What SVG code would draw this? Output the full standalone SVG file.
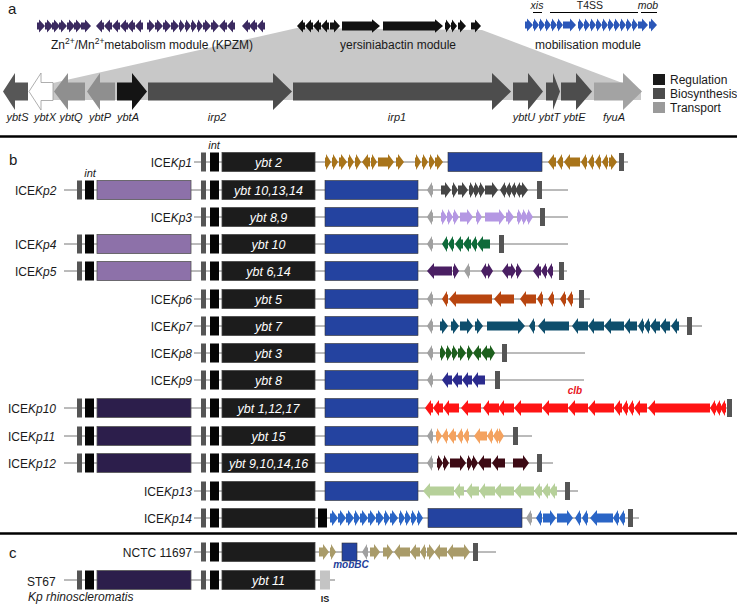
<svg xmlns="http://www.w3.org/2000/svg" width="737" height="608" viewBox="0 0 737 608">
<style>
text{font-family:"Liberation Sans",Arial,sans-serif;fill:#1a1a1a}
.it{font-style:italic}
.lab{font-size:12px}
.ybt{font-size:12.5px;font-style:italic;fill:#fff;text-anchor:middle}
.gl{font-size:11px;font-style:italic;text-anchor:middle}
.mod{font-size:12px;text-anchor:middle}
.pan{font-size:15px}
.bk line{stroke:#777;stroke-width:1}
.gb{fill:#555}
.ib{fill:#050505}
.yb{fill:#1c1c1c;stroke:#444;stroke-width:.8}
.bl{fill:#2443a0;stroke:#333;stroke-width:.6}
.pl{fill:#8d71a9;stroke:#555;stroke-width:.8}
.pd{fill:#2c1e4b;stroke:#555;stroke-width:.8}
.gr{fill:#a0a0a0}
.sep{stroke:#000;stroke-width:2.5}
.c1{fill:#a8741a}.c2{fill:#454545}.c3{fill:#b497e3}.c4{fill:#0e6b3a}.c5{fill:#4a1f63}
.c6{fill:#b8450f}.c7{fill:#0e4e6c}.c8{fill:#1c5f1c}.c9{fill:#2b2b8e}.c10{fill:#ff1414}
.c11{fill:#f4a25f}.c12{fill:#3d0a14}.c13{fill:#b6d09a}.c14{fill:#2a65c6}.cn{fill:#a99b69}
.kz{fill:#3b2a60}.yk{fill:#111}.mb{fill:#2b57b8}
</style>
<defs>
<path id="r6" d="M0,-4.5H1V-8L6,0L1,8V4.5H0Z"/>
<path id="r8" d="M0,-4.5H2V-8L8,0L2,8V4.5H0Z"/>
<path id="r10" d="M0,-4.5H4V-8L10,0L4,8V4.5H0Z"/>
<path id="r13" d="M0,-4.5H7V-8L13,0L7,8V4.5H0Z"/>
<path id="r16" d="M0,-4.5H10V-8L16,0L10,8V4.5H0Z"/>
<path id="r20" d="M0,-4.5H14V-8L20,0L14,8V4.5H0Z"/>
<path id="l6" d="M0,0L5,-8V-4.5H6V4.5H5V8Z"/>
<path id="l8" d="M0,0L6,-8V-4.5H8V4.5H6V8Z"/>
<path id="l10" d="M0,0L6,-8V-4.5H10V4.5H6V8Z"/>
<path id="l13" d="M0,0L6,-8V-4.5H13V4.5H6V8Z"/>
<path id="l16" d="M0,0L6,-8V-4.5H16V4.5H6V8Z"/>
<path id="l20" d="M0,0L7,-8V-4.5H20V4.5H7V8Z"/>
<path id="l26" d="M0,0L7,-8V-4.5H26V4.5H7V8Z"/>
</defs>
<rect width="737" height="608" fill="#fff"/>

<!-- Panel a -->
<text class="pan" x="8" y="14">a</text>
<polygon points="297,28 482,30 641,90 641,100 53,100 53,83" fill="#c8c8c8"/>
<g id="kpzm-module">
<g class="kz" transform="translate(0,26) scale(1,0.8)">
<use href="#r8" x="37"/><use href="#r8" x="45"/><use href="#r8" x="52"/><use href="#r8" x="59"/><use href="#r8" x="67"/><use href="#r8" x="74"/><use href="#r10" x="81"/>
<use href="#l8" x="96"/><use href="#l8" x="104"/><use href="#l8" x="112"/><use href="#l8" x="120"/><use href="#l8" x="127"/><use href="#l8" x="135"/>
<use href="#r8" x="147"/><use href="#r8" x="155"/><use href="#r8" x="163"/><use href="#r8" x="171"/><use href="#r6" x="179"/><use href="#r6" x="185"/><use href="#r6" x="191"/><use href="#r6" x="197"/><use href="#r8" x="203"/><use href="#r8" x="211"/><use href="#l8" x="219"/><use href="#l8" x="227"/>
<use href="#l8" x="242"/><use href="#l8" x="249"/><use href="#l8" x="257"/>
</g>
<text class="mod" x="152" y="49">Zn<tspan dy="-5" font-size="8.5">2+</tspan><tspan dy="5">/Mn</tspan><tspan dy="-5" font-size="8.5">2+</tspan><tspan dy="5">metabolism module (KPZM)</tspan></text>
</g>
<g id="ybt-module">
<g class="yk" transform="translate(0,26) scale(1,0.8)">
<use href="#l8" x="297"/><use href="#l8" x="305"/><use href="#l8" x="313"/><use href="#l8" x="321"/><use href="#r10" x="330"/>
<path d="M342,-5.5H372V-8.5L380,0L372,8.5V5.5H342Z"/>
<path d="M383,-5.5H435V-8.5L443,0L435,8.5V5.5H383Z"/>
<use href="#r6" x="445"/><use href="#r6" x="451"/><use href="#r8" x="458"/><use href="#r10" x="471"/>
</g>
<text class="mod" x="398" y="49">yersiniabactin module</text>
</g>
<g id="mob-module">
<g class="mb" transform="translate(0,25) scale(1,0.8)">
<use href="#r8" x="525"/><use href="#r6" x="533"/><use href="#r6" x="539"/><use href="#r6" x="545"/><use href="#r6" x="551"/><use href="#r6" x="557"/><use href="#r13" x="563"/>
<use href="#r6" x="578"/><use href="#r6" x="584"/><use href="#r6" x="590"/><use href="#r6" x="596"/><use href="#r6" x="602"/><use href="#r6" x="608"/><use href="#r6" x="614"/><use href="#r6" x="620"/>
<use href="#r6" x="626"/><use href="#r6" x="632"/><use href="#r10" x="638"/><use href="#r8" x="649"/>
</g>
<text class="it" x="537" y="9" font-size="10.5" text-anchor="middle">xis</text>
<text x="590" y="9" font-size="10.5" text-anchor="middle">T4SS</text>
<text class="it" x="648" y="9" font-size="10.5" text-anchor="middle">mob</text>
<g stroke="#000" stroke-width="1"><line x1="533" y1="12.5" x2="542" y2="12.5"/><line x1="550" y1="12.5" x2="638" y2="12.5"/><line x1="641" y1="12.5" x2="657" y2="12.5"/></g>
<text class="mod" x="588" y="49">mobilisation module</text>
</g>
<g id="ybt-locus">
<path d="M3,91.5L15,73V82.5H28V100.5H15V110Z" fill="#575757"/>
<path d="M29,91.5L41,73V82.5H53V100.5H41V110Z" fill="#fff" stroke="#9a9a9a" stroke-width="0.8"/>
<path d="M54,91.5L68,73V82.5H85V100.5H68V110Z" fill="#8f8f8f"/>
<path d="M87,91.5L100,73V82.5H115V100.5H100V110Z" fill="#8f8f8f"/>
<path d="M117,82.5H132V73L147,91.5L132,110V100.5H117Z" fill="#141414"/>
<path d="M148,82.5H273V73L292,91.5L273,110V100.5H148Z" fill="#4d4d4d"/>
<path d="M293,82.5H492V73L511,91.5L492,110V100.5H293Z" fill="#4d4d4d"/>
<path d="M513,82.5H528V73L543,91.5L528,110V100.5H513Z" fill="#4d4d4d"/>
<path d="M546,82.5H553V73L560,91.5L553,110V100.5H546Z" fill="#4d4d4d"/>
<path d="M561,82.5H576V73L592,91.5L576,110V100.5H561Z" fill="#4d4d4d"/>
<path d="M594,82.5H623V73L642,91.5L623,110V100.5H594Z" fill="#a3a3a3"/>
<text class="gl" x="17.5" y="121">ybtS</text>
<text class="gl" x="45" y="121">ybtX</text>
<text class="gl" x="71" y="121">ybtQ</text>
<text class="gl" x="100" y="121">ybtP</text>
<text class="gl" x="128" y="121">ybtA</text>
<text class="gl" x="217" y="121">irp2</text>
<text class="gl" x="397" y="121">irp1</text>
<text class="gl" x="524" y="121">ybtU</text>
<text class="gl" x="549.5" y="121">ybtT</text>
<text class="gl" x="574.5" y="121">ybtE</text>
<text class="gl" x="614" y="121">fyuA</text>
</g>
<g id="legend">
<rect x="653" y="74" width="12" height="11" fill="#1a1a1a"/>
<rect x="653" y="88" width="12" height="11" fill="#4d4d4d"/>
<rect x="653" y="102" width="12" height="11" fill="#9a9a9a"/>
<text x="670" y="84" font-size="12">Regulation</text>
<text x="670" y="98" font-size="12">Biosynthesis</text>
<text x="670" y="112" font-size="12">Transport</text>
</g>
<line class="sep" x1="0" y1="136.5" x2="737" y2="136.5"/>

<!-- Panel b -->
<text class="pan" x="9" y="165">b</text>
<g id="connectors" class="bk">
<line x1="194" y1="162" x2="628" y2="162"/>
<line x1="64" y1="190" x2="568" y2="190"/>
<line x1="194" y1="217" x2="568" y2="217"/>
<line x1="64" y1="244" x2="568" y2="244"/>
<line x1="64" y1="271" x2="567" y2="271"/>
<line x1="194" y1="299" x2="590" y2="299"/>
<line x1="194" y1="326" x2="702" y2="326"/>
<line x1="194" y1="353" x2="585" y2="353"/>
<line x1="194" y1="380" x2="584" y2="380"/>
<line x1="64" y1="408" x2="732" y2="408"/>
<line x1="64" y1="436" x2="532" y2="436"/>
<line x1="64" y1="463" x2="553" y2="463"/>
<line x1="194" y1="491" x2="578" y2="491"/>
<line x1="194" y1="518" x2="639" y2="518"/>
<line x1="194" y1="552" x2="496" y2="552"/>
<line x1="64" y1="580" x2="335" y2="580"/>
</g>

<g id="ICEKp1">
<text class="lab" x="192" y="166.5" text-anchor="end">ICE<tspan class="it">Kp1</tspan></text>
<text class="it" x="214" y="149" font-size="11" text-anchor="middle">int</text>
<rect class="gb" x="201" y="152.5" width="5" height="19"/><rect class="ib" x="210" y="152.5" width="9" height="19"/>
<rect class="yb" x="222" y="152.5" width="93" height="19"/><text class="ybt" x="268.5" y="166.5">ybt 2</text>
<rect class="bl" x="448" y="152.5" width="94" height="19"/>
<g class="c1" transform="translate(0,162)">
<use href="#r6" x="325"/><use href="#r6" x="332"/><use href="#r8" x="339"/><use href="#r6" x="348"/><use href="#r6" x="355"/><use href="#l8" x="362"/><use href="#r6" x="371"/><use href="#r16" x="378"/><use href="#r8" x="396"/><use href="#r6" x="415"/><use href="#r6" x="422"/><use href="#r6" x="429"/><use href="#r8" x="435"/>
<use href="#l8" x="548"/><use href="#l6" x="557"/><use href="#l16" x="564"/><use href="#l6" x="581"/><use href="#l6" x="588"/><use href="#l6" x="595"/><use href="#l6" x="602"/><use href="#r8" x="609"/>
</g>
<rect class="gb" x="619" y="153" width="5" height="18"/>
</g>

<g id="ICEKp2">
<text class="lab" x="15" y="194.5">ICE<tspan class="it">Kp2</tspan></text>
<text class="it" x="90" y="177" font-size="11" text-anchor="middle">int</text>
<rect class="gb" x="77" y="180.5" width="5" height="19"/><rect class="ib" x="85" y="180.5" width="9" height="19"/>
<rect class="pl" x="97" y="180.5" width="94" height="19"/>
<rect class="gb" x="201" y="180.5" width="5" height="19"/><rect class="ib" x="210" y="180.5" width="9" height="19"/>
<rect class="yb" x="222" y="180.5" width="93" height="19"/><text class="ybt" x="268.5" y="194.5">ybt 10,13,14</text>
<rect class="bl" x="325" y="180.5" width="93" height="19"/>
<g class="c2" transform="translate(0,190)">
<use class="gr" href="#l6" x="427"/>
<use href="#r10" x="441"/><use href="#r6" x="452"/><use href="#r10" x="458"/><use href="#r6" x="469"/><use href="#r6" x="474"/><use href="#r6" x="479"/><use href="#r13" x="485"/><use href="#l6" x="500"/><use href="#l6" x="505"/><use href="#l6" x="510"/><use href="#l6" x="515"/><use href="#r8" x="520"/>
</g>
<rect class="gb" x="537" y="181" width="5" height="18"/>
</g>

<g id="ICEKp3">
<text class="lab" x="192" y="221.5" text-anchor="end">ICE<tspan class="it">Kp3</tspan></text>
<rect class="gb" x="201" y="207.5" width="5" height="19"/><rect class="ib" x="210" y="207.5" width="9" height="19"/>
<rect class="yb" x="222" y="207.5" width="93" height="19"/><text class="ybt" x="268.5" y="221.5">ybt 8,9</text>
<rect class="bl" x="325" y="207.5" width="93" height="19"/>
<g class="c3" transform="translate(0,217)">
<use class="gr" href="#l6" x="427"/>
<use href="#r6" x="441"/><use href="#r6" x="447"/><use href="#r6" x="453"/><use href="#r13" x="460"/><use href="#r6" x="476"/><use href="#r20" x="485"/><use href="#r8" x="506"/><use href="#r6" x="517"/><use href="#r6" x="522"/><use href="#r6" x="527"/>
</g>
<rect class="gb" x="540" y="208" width="5" height="18"/>
</g>

<g id="ICEKp4">
<text class="lab" x="15" y="248.5">ICE<tspan class="it">Kp4</tspan></text>
<rect class="gb" x="77" y="234.5" width="5" height="19"/><rect class="ib" x="85" y="234.5" width="9" height="19"/>
<rect class="pl" x="97" y="234.5" width="94" height="19"/>
<rect class="gb" x="201" y="234.5" width="5" height="19"/><rect class="ib" x="210" y="234.5" width="9" height="19"/>
<rect class="yb" x="222" y="234.5" width="93" height="19"/><text class="ybt" x="268.5" y="248.5">ybt 10</text>
<rect class="bl" x="325" y="234.5" width="93" height="19"/>
<g class="c4" transform="translate(0,244)">
<use class="gr" href="#l6" x="427"/>
<use href="#l6" x="442"/><use href="#l6" x="448"/><use href="#l8" x="455"/><use href="#l8" x="463"/><use href="#l6" x="471"/><use href="#l13" x="477"/>
</g>
<rect class="gb" x="499" y="235" width="5" height="18"/>
</g>

<g id="ICEKp5">
<text class="lab" x="15" y="275.5">ICE<tspan class="it">Kp5</tspan></text>
<rect class="gb" x="77" y="261.5" width="5" height="19"/><rect class="ib" x="85" y="261.5" width="9" height="19"/>
<rect class="pl" x="97" y="261.5" width="94" height="19"/>
<rect class="gb" x="201" y="261.5" width="5" height="19"/><rect class="ib" x="210" y="261.5" width="9" height="19"/>
<rect class="yb" x="222" y="261.5" width="93" height="19"/><text class="ybt" x="268.5" y="275.5">ybt 6,14</text>
<rect class="bl" x="325" y="261.5" width="93" height="19"/>
<g class="c5" transform="translate(0,271)">
<path d="M427,0L434,-8V-4.5H452V4.5H434V8Z"/><use href="#r6" x="453"/>
<use class="gr" href="#l6" x="464"/>
<use href="#l6" x="481"/><use href="#r6" x="487"/><use href="#l8" x="502"/><use href="#r6" x="510"/><use href="#r6" x="516"/><use href="#l8" x="533"/><use href="#l6" x="541"/><use href="#l6" x="547"/>
</g>
<rect class="gb" x="559" y="262" width="5" height="18"/>
</g>

<g id="ICEKp6">
<text class="lab" x="192" y="303.5" text-anchor="end">ICE<tspan class="it">Kp6</tspan></text>
<rect class="gb" x="201" y="289.5" width="5" height="19"/><rect class="ib" x="210" y="289.5" width="9" height="19"/>
<rect class="yb" x="222" y="289.5" width="93" height="19"/><text class="ybt" x="268.5" y="303.5">ybt 5</text>
<rect class="bl" x="325" y="289.5" width="93" height="19"/>
<g class="c6" transform="translate(0,299)">
<use class="gr" href="#l6" x="427"/>
<use href="#l6" x="442"/><path d="M449,0L456,-8V-4.5H492V4.5H456V8Z"/><use href="#l20" x="494"/><use href="#l16" x="520"/><use href="#l6" x="537"/><use href="#l6" x="548"/><use href="#l6" x="560"/><use href="#l6" x="567"/>
</g>
<rect class="gb" x="579" y="290" width="5" height="18"/>
</g>

<g id="ICEKp7">
<text class="lab" x="192" y="330.5" text-anchor="end">ICE<tspan class="it">Kp7</tspan></text>
<rect class="gb" x="201" y="316.5" width="5" height="19"/><rect class="ib" x="210" y="316.5" width="9" height="19"/>
<rect class="yb" x="222" y="316.5" width="93" height="19"/><text class="ybt" x="268.5" y="330.5">ybt 7</text>
<rect class="bl" x="325" y="316.5" width="93" height="19"/>
<g class="c7" transform="translate(0,326)">
<use class="gr" href="#l6" x="427"/>
<use href="#r8" x="440"/><use href="#r8" x="451"/><use href="#r13" x="460"/><use href="#r8" x="475"/>
<path d="M487,-4.5H518V-8L525,0L518,8V4.5H487Z"/><use href="#l6" x="529"/>
<path d="M538,0L545,-8V-4.5H569V4.5H545V8Z"/>
<use href="#l16" x="572"/><use href="#l16" x="588"/><use href="#l20" x="604"/><use href="#l13" x="624"/><use href="#l6" x="638"/><use href="#l6" x="644"/><use href="#l10" x="650"/><use href="#l10" x="660"/><use href="#l8" x="671"/>
</g>
<rect class="gb" x="687" y="317" width="5" height="18"/>
</g>

<g id="ICEKp8">
<text class="lab" x="192" y="357.5" text-anchor="end">ICE<tspan class="it">Kp8</tspan></text>
<rect class="gb" x="201" y="343.5" width="5" height="19"/><rect class="ib" x="210" y="343.5" width="9" height="19"/>
<rect class="yb" x="222" y="343.5" width="93" height="19"/><text class="ybt" x="268.5" y="357.5">ybt 3</text>
<rect class="bl" x="325" y="343.5" width="93" height="19"/>
<g class="c8" transform="translate(0,353)">
<use class="gr" href="#l6" x="427"/>
<use href="#r6" x="440"/><use href="#r6" x="446"/><use href="#r6" x="452"/><use href="#r8" x="458"/><use href="#r6" x="467"/><use href="#l8" x="473"/><use href="#l8" x="481"/><use href="#r6" x="489"/>
</g>
<rect class="gb" x="502" y="344" width="5" height="18"/>
</g>

<g id="ICEKp9">
<text class="lab" x="192" y="384.5" text-anchor="end">ICE<tspan class="it">Kp9</tspan></text>
<rect class="gb" x="201" y="370.5" width="5" height="19"/><rect class="ib" x="210" y="370.5" width="9" height="19"/>
<rect class="yb" x="222" y="370.5" width="93" height="19"/><text class="ybt" x="268.5" y="384.5">ybt 8</text>
<rect class="bl" x="325" y="370.5" width="93" height="19"/>
<g class="c9" transform="translate(0,380)">
<use class="gr" href="#l6" x="427"/>
<use href="#l10" x="442"/><use href="#l10" x="452"/><use href="#l10" x="462"/><use href="#l13" x="472"/>
</g>
<rect class="gb" x="495" y="371" width="5" height="18"/>
</g>

<g id="ICEKp10">
<text class="lab" x="8" y="412.5">ICE<tspan class="it">Kp10</tspan></text>
<rect class="gb" x="77" y="398.5" width="5" height="19"/><rect class="ib" x="85" y="398.5" width="9" height="19"/>
<rect class="pd" x="97" y="398.5" width="94" height="19"/>
<rect class="gb" x="201" y="398.5" width="5" height="19"/><rect class="ib" x="210" y="398.5" width="9" height="19"/>
<rect class="yb" x="222" y="398.5" width="93" height="19"/><text class="ybt" x="268.5" y="412.5">ybt 1,12,17</text>
<rect class="bl" x="325" y="398.5" width="93" height="19"/>
<g class="c10" transform="translate(0,408)">
<use href="#l8" x="425"/><use href="#l10" x="433"/><use href="#l16" x="443"/><use href="#l20" x="461"/><use href="#l16" x="483"/><use href="#l16" x="498"/>
<path d="M514,0L521,-8V-4.5H542V4.5H521V8Z"/>
<use href="#l26" x="542"/><use href="#l20" x="568"/><use href="#l26" x="588"/><use href="#l8" x="614"/><use href="#l6" x="622"/><use href="#l6" x="628"/><use href="#l13" x="634"/>
<path d="M648,0L655,-8V-4.5H710V4.5H655V8Z"/>
<use href="#l6" x="710"/><use href="#l6" x="715"/><use href="#l6" x="720"/>
</g>
<text x="575" y="394" font-size="10" font-weight="bold" font-style="italic" style="fill:#e8141c" text-anchor="middle">clb</text>
<rect class="gb" x="727" y="399" width="5" height="18"/>
</g>

<g id="ICEKp11">
<text class="lab" x="8" y="440.5">ICE<tspan class="it">Kp11</tspan></text>
<rect class="gb" x="77" y="426.5" width="5" height="19"/><rect class="ib" x="85" y="426.5" width="9" height="19"/>
<rect class="pd" x="97" y="426.5" width="94" height="19"/>
<rect class="gb" x="201" y="426.5" width="5" height="19"/><rect class="ib" x="210" y="426.5" width="9" height="19"/>
<rect class="yb" x="222" y="426.5" width="93" height="19"/><text class="ybt" x="268.5" y="440.5">ybt 15</text>
<rect class="bl" x="325" y="426.5" width="93" height="19"/>
<g class="c11" transform="translate(0,436)">
<use class="gr" href="#l6" x="427"/>
<use href="#r6" x="436"/><use href="#l6" x="442"/><use href="#l8" x="448"/><use href="#l6" x="457"/><use href="#l6" x="463"/><use href="#l13" x="474"/><use href="#l6" x="487"/><use href="#l6" x="493"/><use href="#r6" x="498"/>
</g>
<rect class="gb" x="513" y="427" width="5" height="18"/>
</g>

<g id="ICEKp12">
<text class="lab" x="8" y="467.5">ICE<tspan class="it">Kp12</tspan></text>
<rect class="gb" x="77" y="453.5" width="5" height="19"/><rect class="ib" x="85" y="453.5" width="9" height="19"/>
<rect class="pd" x="97" y="453.5" width="94" height="19"/>
<rect class="gb" x="201" y="453.5" width="5" height="19"/><rect class="ib" x="210" y="453.5" width="9" height="19"/>
<rect class="yb" x="222" y="453.5" width="93" height="19"/><text class="ybt" x="268.5" y="467.5">ybt 9,10,14,16</text>
<rect class="bl" x="325" y="453.5" width="93" height="19"/>
<g class="c12" transform="translate(0,463)">
<use class="gr" href="#l6" x="427"/>
<use href="#r6" x="437"/><use href="#r6" x="443"/><use href="#r16" x="450"/><use href="#r6" x="467"/><use href="#r6" x="472"/><use href="#l13" x="478"/><use href="#l13" x="492"/><use href="#r16" x="513"/>
</g>
<rect class="gb" x="537" y="454" width="5" height="18"/>
</g>

<g id="ICEKp13">
<text class="lab" x="192" y="495.5" text-anchor="end">ICE<tspan class="it">Kp13</tspan></text>
<rect class="gb" x="201" y="481.5" width="5" height="19"/><rect class="ib" x="210" y="481.5" width="9" height="19"/>
<rect class="yb" x="222" y="481.5" width="93" height="19"/>
<rect class="bl" x="325" y="481.5" width="93" height="19"/>
<g class="c13" transform="translate(0,491)">
<path d="M423,0L430,-8V-4.5H454V4.5H430V8Z"/>
<use href="#l10" x="454"/><use href="#l13" x="466"/><use href="#l16" x="479"/><use href="#l20" x="494"/><use href="#l20" x="514"/><use href="#l8" x="534"/><use href="#l8" x="542"/><use href="#l8" x="549"/>
</g>
<rect class="gb" x="565" y="482" width="5" height="18"/>
</g>

<g id="ICEKp14">
<text class="lab" x="192" y="522.5" text-anchor="end">ICE<tspan class="it">Kp14</tspan></text>
<rect class="gb" x="201" y="508.5" width="5" height="19"/><rect class="ib" x="210" y="508.5" width="9" height="19"/>
<rect class="yb" x="222" y="508.5" width="93" height="19"/>
<rect class="ib" x="318" y="508.5" width="9" height="19"/>
<g class="c14" transform="translate(0,518)">
<use href="#r8" x="330"/><use href="#r8" x="338"/><use href="#r8" x="346"/><use href="#r6" x="354"/><use href="#r8" x="360"/><use href="#r8" x="368"/><use href="#r8" x="376"/><use href="#r6" x="384"/><use href="#r8" x="390"/><use href="#r6" x="399"/><use href="#r6" x="405"/><use href="#r6" x="411"/><use href="#r6" x="417"/>
<use class="gr" href="#l6" x="526"/>
<use href="#l6" x="536"/><use href="#r13" x="543"/><use href="#r16" x="557"/><use href="#l6" x="575"/><use href="#l6" x="582"/>
<path d="M590,0L597,-8V-4.5H613V4.5H597V8Z"/>
<use href="#l6" x="613"/><use href="#l6" x="619"/>
</g>
<rect class="bl" x="428" y="508.5" width="94" height="19"/>
<rect class="gb" x="628" y="509" width="5" height="18"/>
</g>
<line class="sep" x1="0" y1="533.5" x2="737" y2="533.5"/>

<!-- Panel c -->
<text class="pan" x="9" y="558">c</text>
<g id="NCTC11697">
<text class="lab" x="192" y="556.5" text-anchor="end">NCTC 11697</text>
<rect class="gb" x="201" y="542.5" width="5" height="19"/><rect class="ib" x="210" y="542.5" width="9" height="19"/>
<rect class="yb" x="222" y="542.5" width="93" height="19"/>
<g class="cn" transform="translate(0,552)">
<use href="#r10" x="319"/><use href="#r6" x="330"/>
<use class="gr" href="#l6" x="362"/>
<use href="#r10" x="370"/><use href="#r10" x="383"/><use href="#l16" x="394"/><use href="#l10" x="410"/><use href="#l6" x="420"/><use href="#r8" x="427"/><use href="#l13" x="434"/><use href="#l10" x="447"/><use href="#r13" x="457"/>
</g>
<rect class="bl" x="342" y="543" width="15" height="18"/>
<text x="351" y="568" font-size="10" font-weight="bold" font-style="italic" style="fill:#23409a" text-anchor="middle">mobBC</text>
<rect class="gb" x="473" y="543" width="5" height="18"/>
</g>

<g id="ST67">
<text class="lab" x="27" y="586">ST67</text>
<rect class="gb" x="77" y="570.5" width="5" height="19"/><rect class="ib" x="85" y="570.5" width="9" height="19"/>
<rect class="pd" x="97" y="570.5" width="94" height="19"/>
<rect class="gb" x="201" y="570.5" width="5" height="19"/><rect class="ib" x="210" y="570.5" width="9" height="19"/>
<rect class="yb" x="222" y="570.5" width="93" height="19"/><text class="ybt" x="268.5" y="584.5">ybt 11</text>
<rect x="320" y="570.5" width="10" height="19" fill="#c4c4c4"/>
<text x="325" y="602" font-size="9" font-weight="bold" text-anchor="middle">IS</text>
<text class="lab it" x="28" y="601">Kp rhinoscleromatis</text>
</g>
</svg>
